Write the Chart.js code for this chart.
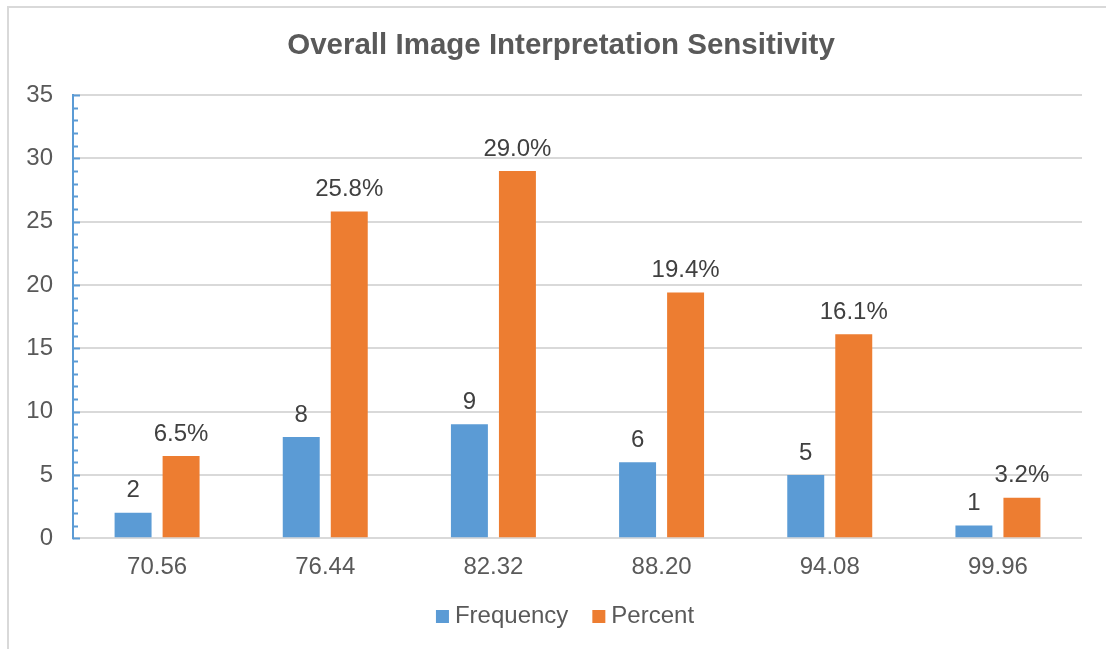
<!DOCTYPE html>
<html>
<head>
<meta charset="utf-8">
<script src="https://cdn.jsdelivr.net/npm/chart.js@4.4.1/dist/chart.umd.min.js"></script>
<style>
  html, body { margin: 0; padding: 0; background: #fff; }
  #frame { position: absolute; left: 7px; top: 6px; width: 1200px; height: 700px; border: 2px solid #D9D9D9; box-sizing: border-box; }
  #wrap { position: absolute; left: 0; top: 0; width: 1106px; height: 649px; }
</style>
</head>
<body>
<div id="frame"></div>
<div id="wrap"><canvas id="c" width="1106" height="649"></canvas></div>
<script>
// Sensitivity score bins and the share of cases in each
const categories = ['70.56', '76.44', '82.32', '88.20', '94.08', '99.96'];
const frequency = [2, 8, 9, 6, 5, 1];
const percent = [6.5, 25.8, 29.0, 19.4, 16.1, 3.2];
const yTicks = [0, 5, 10, 15, 20, 25, 30, 35];
const chartTitle = 'Overall Image Interpretation Sensitivity';

const FONT = '"Liberation Sans", Arial, sans-serif';
const TEXT = '#595959';
// horizontal centre of the whole framed chart (frame extends past the right edge)
const FRAME_CENTER = 561;

// Value labels above each bar
const valueLabels = {
  id: 'valueLabels',
  afterDatasetsDraw(chart) {
    const ctx = chart.ctx;
    ctx.save();
    ctx.font = '24px ' + FONT;
    ctx.fillStyle = '#404040';
    ctx.textAlign = 'center';
    ctx.textBaseline = 'bottom';
    chart.data.datasets.forEach((ds, di) => {
      chart.getDatasetMeta(di).data.forEach((bar, i) => {
        const v = ds.data[i];
        const txt = di === 1 ? v.toFixed(1) + '%' : String(v);
        ctx.fillText(txt, bar.x, bar.y - 10);
      });
    });
    ctx.restore();
  }
};

// Blue value axis with minor ticks at every unit
const valueAxisLine = {
  id: 'valueAxisLine',
  afterDraw(chart) {
    const y = chart.scales.y;
    const ctx = chart.ctx;
    const x0 = chart.chartArea.left;
    ctx.save();
    ctx.strokeStyle = '#5B9BD5';
    ctx.lineWidth = 2;
    ctx.beginPath();
    ctx.moveTo(x0, y.getPixelForValue(y.max) - 1);
    ctx.lineTo(x0, y.getPixelForValue(0) + 1);
    ctx.stroke();
    for (let v = 0; v <= y.max; v++) {
      const py = Math.round(y.getPixelForValue(v)) + 0.5;
      const major = v % 5 === 0;
      ctx.beginPath();
      ctx.moveTo(x0, py);
      ctx.lineTo(x0 + (major ? 7 : 5), py);
      ctx.stroke();
    }
    ctx.restore();
  }
};

// Title centred on the frame, and legend row below the axis
const titleAndLegend = {
  id: 'titleAndLegend',
  afterDraw(chart) {
    const ctx = chart.ctx;
    ctx.save();
    ctx.textBaseline = 'alphabetic';

    ctx.font = 'bold 29.5px ' + FONT;
    ctx.fillStyle = TEXT;
    ctx.textAlign = 'center';
    ctx.fillText(chartTitle, FRAME_CENTER, 54);

    const box = 13, gap = 6, spacing = 24, baseline = 623;
    ctx.font = '24px ' + FONT;
    ctx.textAlign = 'left';
    const items = chart.data.datasets.map(ds => ({
      text: ds.label, color: ds.backgroundColor, w: ctx.measureText(ds.label).width
    }));
    const total = items.reduce((s, it) => s + box + gap + it.w, 0) + spacing * (items.length - 1);
    let x = FRAME_CENTER + 4 - total / 2;
    items.forEach(it => {
      ctx.fillStyle = it.color;
      ctx.fillRect(x, baseline - box, box, box);
      ctx.fillStyle = TEXT;
      ctx.fillText(it.text, x + box + gap, baseline);
      x += box + gap + it.w + spacing;
    });
    ctx.restore();
  }
};

new Chart(document.getElementById('c'), {
  type: 'bar',
  data: {
    labels: categories,
    datasets: [
      { label: 'Frequency', data: frequency, backgroundColor: '#5B9BD5',
        barPercentage: 0.77, categoryPercentage: 0.571 },
      { label: 'Percent', data: percent, backgroundColor: '#ED7D31',
        barPercentage: 0.77, categoryPercentage: 0.571 }
    ]
  },
  options: {
    responsive: false,
    animation: false,
    devicePixelRatio: 1,
    layout: { padding: { left: 0, right: 24, top: 95, bottom: 52 } },
    plugins: {
      title: { display: false },
      legend: { display: false },
      tooltip: { enabled: false }
    },
    scales: {
      x: {
        grid: { display: false, drawTicks: false },
        border: { display: false },
        ticks: { color: TEXT, font: { family: FONT, size: 24 }, padding: 15 }
      },
      y: {
        min: 0,
        max: 35,
        afterFit(scale) { scale.width = 73; },
        afterBuildTicks(scale) { scale.ticks = yTicks.map(v => ({ value: v })); },
        grid: { color: '#D9D9D9', lineWidth: 2, drawTicks: false },
        border: { display: false },
        ticks: { color: TEXT, font: { family: FONT, size: 24 }, padding: 20 }
      }
    }
  },
  plugins: [valueLabels, valueAxisLine, titleAndLegend]
});
</script>
</body>
</html>
